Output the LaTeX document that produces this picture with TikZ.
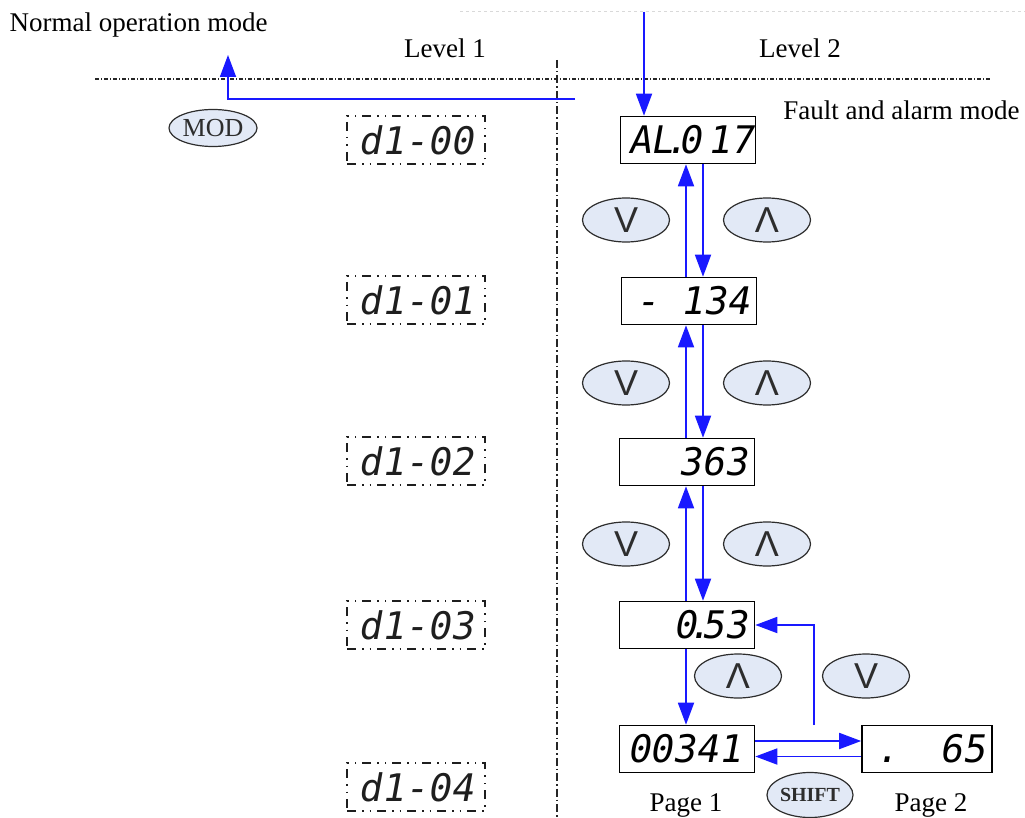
\documentclass[tikz,border=0pt]{standalone}
\usepackage{fontspec}
\setmainfont{Liberation Serif}
\newfontfamily\segfont[FakeSlant=0.18]{DejaVu Sans Mono}
\newfontfamily\keyfont{Liberation Sans}
\usetikzlibrary{arrows.meta,shapes.geometric}

\definecolor{cblue}{RGB}{25,25,255}
\definecolor{ckey}{RGB}{226,233,246}
\definecolor{cedge}{RGB}{45,45,45}
\definecolor{cghost}{RGB}{30,30,30}

\begin{document}
\begin{tikzpicture}[x=1pt,y=-1pt,
        disp/.style={draw=black,line width=1.6pt,minimum width=135pt,minimum height=47pt,
          inner sep=0pt,font=\segfont\fontsize{38}{38}\selectfont},
        ghost/.style={draw=cghost,line width=2pt,
          dash pattern=on 9pt off 6pt on 1.5pt off 6pt on 1.5pt off 6pt,
          minimum width=138pt,minimum height=48pt,inner sep=0pt,text=cghost,
          font=\segfont\fontsize{38}{38}\selectfont},
        key/.style={ellipse,draw=cedge,fill=ckey,line width=1.2pt,minimum width=87pt,
          minimum height=44pt,inner sep=0pt,text=cedge,font=\keyfont\fontsize{36}{36}\selectfont},
        nav/.style={draw=cblue,line width=1.8pt,-{Triangle[length=22pt,width=16pt]}},
        lbl/.style={font=\fontsize{27}{29}\selectfont}]
      \useasboundingbox (0,0) rectangle (1025,818);
      % headings and level rules
      \draw[gray!30,line width=1pt,dashed] (460,12) -- (1025,12);
      \node[lbl,anchor=west] (normal) at (6,25) {Normal operation mode};
      \node[lbl] (lev1) at (445,48) {Level 1};
      \node[lbl] (lev2) at (800,48) {Level 2};
      \node[lbl,anchor=east] (fault) at (1023,110) {Fault and alarm mode};
      \draw[black!85,line width=1.2pt,dash pattern=on 4pt off 2pt on 1pt off 2pt] (95,79) -- (990,79);
      \draw[black!85,line width=1.2pt,dash pattern=on 8pt off 3pt on 1.5pt off 3pt] (557,60) -- (557,818);
      % level 1 codes
      \foreach \k/\y in {0/140, 1/300, 2/461, 3/625, 4/787}
        \node[ghost] (d\k) at (416,\y) {d1-0\k};
      \node[key,minimum width=88pt,minimum height=37pt,
        font=\fontsize{26}{26}\selectfont] (mod) at (213,128) {MOD};
      % level 2 displays
      \node[disp] (p0) at (688,140) {\hbox to 120pt{AL\kern-9pt.\kern-9pt0\,17}};
      \node[disp] (p1) at (689,301) {\hbox to 120pt{\,-\hfil 134}};
      \node[disp] (p2) at (687,462) {\hbox to 120pt{\hfil 363}};
      \node[disp] (p3) at (687,625) {\hbox to 120pt{\hfil 0\kern-9pt.\kern-9pt53}};
      \node[disp] (p4) at (687,749) {\hbox to 120pt{00341\hfil}};
      \node[disp,minimum width=130pt] (q4) at (927,749) {\hbox to 116pt{\,.\hfil 65}};
      \node[lbl] (page1) at (686,805) {Page 1};
      \node[lbl] (page2) at (931,805) {Page 2};
      % keys
      \foreach \y [count=\i] in {220,383,544} {
        \node[key] (dn\i) at (626,\y) {V};
        \node[key] (up\i) at (767,\y) {Λ};
      }
      \node[key] (up4) at (738,676) {Λ};
      \node[key] (dn4) at (866,676) {V};
      \node[key,minimum width=86pt,minimum height=45pt,
        font=\bfseries\fontsize{20}{20}\selectfont] (shift) at (810,795) {SHIFT};
      % connectors
      \coordinate (sel) at (644,12);
      \coordinate (back) at (575,99);
      \coordinate (normtip) at (228,55);
      \coordinate (ret) at (814,725);
      \draw[nav] (sel) -- (sel |- p0.north);
      \draw[nav] (back) -| (normtip);
      \foreach \a/\b in {p0/p1, p1/p2, p2/p3} {
        \draw[nav] ([xshift=-1pt]\b.north -| 687,0) -- ([xshift=-1pt]\a.south -| 687,0);
        \draw[nav] (\a.south -| 703,0) -- (\b.north -| 703,0);
      }
      \draw[nav] (p3.south -| 686,0) -- (p4.north -| 686,0);
      \draw[nav] ([yshift=8pt]p4.east) -- ([yshift=8pt]q4.west);
      \draw[nav] ([yshift=-7.5pt]q4.west) -- ([yshift=-7.5pt]p4.east);
      \draw[nav] (ret) |- (p3.east);
    \end{tikzpicture}
\end{document}
